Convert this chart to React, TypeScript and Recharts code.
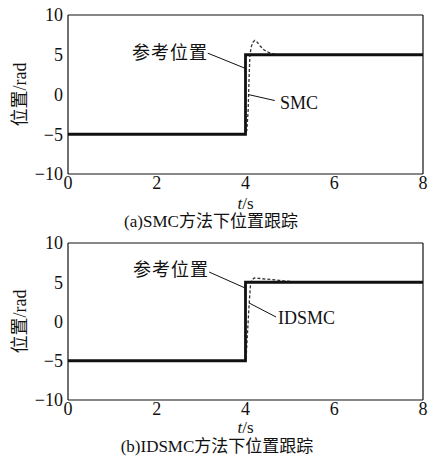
import React from 'react';
import {
  LineChart,
  Line,
  XAxis,
  YAxis,
  ReferenceLine,
} from 'recharts';

// reference (step) position
const refT = [0, 4, 4, 8];
const refPos = [-5, -5, 5, 5];

// SMC response
const smcT = [0, 4, 4.03, 4.06, 4.08, 4.1, 4.13, 4.17, 4.21, 4.26, 4.33, 4.42, 4.52, 4.62, 4.73, 5, 8];
const smcPos = [-5, -5, -4.5, -2, 2, 5, 6, 6.6, 6.8, 6.6, 6.1, 5.6, 5.3, 5.12, 5.03, 5, 5];

// IDSMC response
const idsmcT = [0, 4, 4.02, 4.05, 4.08, 4.11, 4.14, 4.2, 4.3, 4.45, 4.6, 4.75, 4.9, 5.1, 5.3, 8];
const idsmcPos = [-5, -5, -4, -1, 2, 4.5, 5.3, 5.55, 5.5, 5.4, 5.35, 5.25, 5.15, 5.05, 5, 5];

const xTicks = [0, 2, 4, 6, 8];
const yTicks = [-10, -5, 0, 5, 10];

const toSeries = (t: number[], v: number[]) => t.map((x, i) => ({ t: x, v: v[i] }));
const minus = (v: number) => String(v).replace('-', '\u2212');

const serif = '"Liberation Serif", "Times New Roman", "DejaVu Serif", "Noto Sans CJK SC", serif';
const tickStyle = { fontFamily: serif, fontSize: 18, fill: '#111' };

interface PanelProps {
  height: number;
  series: { t: number; v: number }[];
  leaders: { x: number; y: number }[][];
}

function Panel({ height, series, leaders }: PanelProps) {
  return (
    <LineChart
      width={428}
      height={height}
      margin={{ top: 15, right: 5, bottom: 0, left: 20 }}
    >
      <XAxis
        dataKey="t"
        type="number"
        domain={[0, 8]}
        ticks={xTicks}
        height={26}
        tickLine={false}
        tickSize={0}
        tickMargin={2}
        axisLine={{ stroke: '#111', strokeWidth: 1.2 }}
        tick={tickStyle}
        allowDataOverflow
      />
      <XAxis
        xAxisId="bin"
        type="number"
        domain={[0, 8]}
        ticks={xTicks}
        mirror
        tick={false}
        tickSize={4}
        axisLine={false}
        tickLine={{ stroke: '#111' }}
      />
      <XAxis
        xAxisId="top"
        orientation="top"
        type="number"
        domain={[0, 8]}
        ticks={xTicks}
        mirror
        tick={false}
        tickSize={4}
        axisLine={{ stroke: '#111', strokeWidth: 1.2 }}
        tickLine={{ stroke: '#111' }}
      />
      <YAxis
        type="number"
        domain={[-10, 10]}
        ticks={yTicks}
        width={48}
        tickLine={false}
        tickSize={0}
        tickMargin={5}
        tickFormatter={minus}
        axisLine={{ stroke: '#111', strokeWidth: 1.2 }}
        tick={tickStyle}
        label={{
          value: '位置/rad',
          angle: -90,
          position: 'center',
          dx: -24,
          fill: '#111',
          fontFamily: serif,
          fontSize: 18,
        }}
      />
      <YAxis
        yAxisId="lin"
        type="number"
        domain={[-10, 10]}
        ticks={yTicks}
        mirror
        tick={false}
        tickSize={4}
        axisLine={false}
        tickLine={{ stroke: '#111' }}
      />
      <YAxis
        yAxisId="right"
        orientation="right"
        type="number"
        domain={[-10, 10]}
        ticks={yTicks}
        mirror
        tick={false}
        tickSize={4}
        axisLine={{ stroke: '#111', strokeWidth: 1.2 }}
        tickLine={{ stroke: '#111' }}
      />
      <Line
        data={series}
        dataKey="v"
        type="linear"
        stroke="#333"
        strokeWidth={1.3}
        strokeDasharray="3 2"
        dot={false}
        isAnimationActive={false}
      />
      <Line
        data={toSeries(refT, refPos)}
        dataKey="v"
        type="linear"
        stroke="#111"
        strokeWidth={2.8}
        dot={false}
        isAnimationActive={false}
      />
      {leaders.map((seg, i) => (
        <ReferenceLine key={i} segment={seg} stroke="#111" strokeWidth={1} ifOverflow="visible" />
      ))}
    </LineChart>
  );
}

const textStyle: React.CSSProperties = {
  position: 'absolute',
  fontFamily: serif,
  fontSize: 18,
  lineHeight: '18px',
  color: '#111',
  whiteSpace: 'nowrap',
};

export default function App() {
  return (
    <div style={{ position: 'absolute', left: 0, top: 0, width: 428, height: 462, background: '#fff', overflow: 'hidden' }}>
      <div style={{ position: 'absolute', left: 0, top: 0 }}>
        <Panel
          height={200}
          series={toSeries(smcT, smcPos)}
          leaders={[
            [{ x: 3.15, y: 5.2 }, { x: 3.99, y: 3.3 }],
            [{ x: 4.06, y: 0 }, { x: 4.66, y: -0.76 }],
          ]}
        />
      </div>
      <div style={{ ...textStyle, left: 132, top: 44, letterSpacing: 1 }}>参考位置</div>
      <div style={{ ...textStyle, left: 280, top: 94 }}>SMC</div>
      <div style={{ ...textStyle, left: 0, width: 491, textAlign: 'center', top: 197, fontSize: 17, lineHeight: '14px' }}>
        <i>t</i>/s
      </div>
      <div style={{ ...textStyle, left: 0, width: 422, textAlign: 'center', top: 213, fontSize: 17, lineHeight: '17px' }}>(a)SMC方法下位置跟踪</div>

      <div style={{ position: 'absolute', left: 0, top: 228 }}>
        <Panel
          height={198}
          series={toSeries(idsmcT, idsmcPos)}
          leaders={[
            [{ x: 3.18, y: 6.3 }, { x: 3.99, y: 4.27 }],
            [{ x: 4.08, y: 2.36 }, { x: 4.69, y: 0.57 }],
          ]}
        />
      </div>
      <div style={{ ...textStyle, left: 133, top: 261, letterSpacing: 1 }}>参考位置</div>
      <div style={{ ...textStyle, left: 278, top: 309 }}>IDSMC</div>
      <div style={{ ...textStyle, left: 0, width: 491, textAlign: 'center', top: 421, fontSize: 17, lineHeight: '14px' }}>
        <i>t</i>/s
      </div>
      <div style={{ ...textStyle, left: 0, width: 434, textAlign: 'center', top: 438, fontSize: 17, lineHeight: '17px' }}>(b)IDSMC方法下位置跟踪</div>
    </div>
  );
}
